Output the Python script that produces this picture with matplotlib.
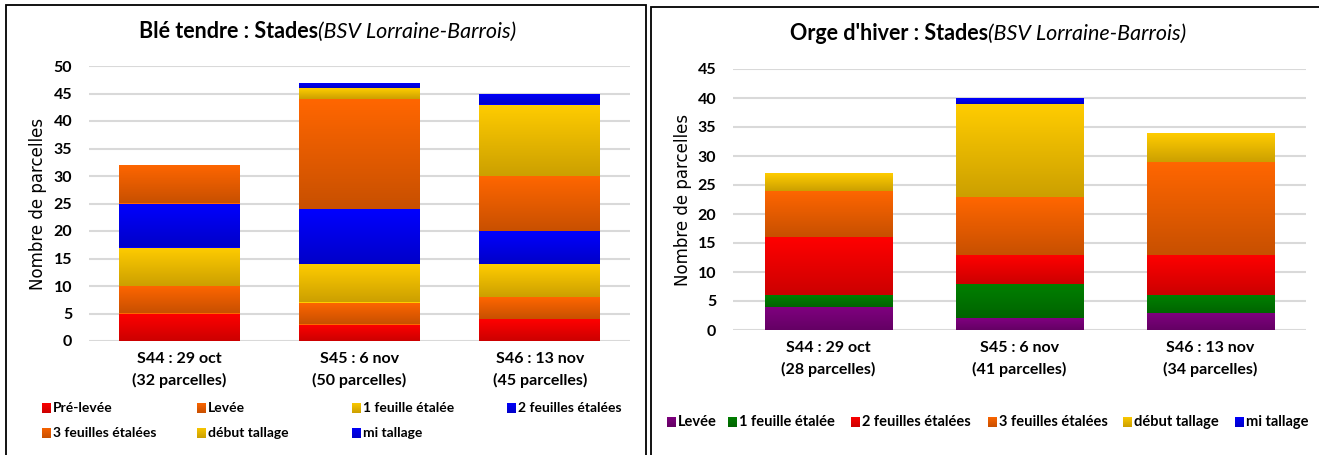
import numpy as np
import matplotlib.pyplot as plt
from matplotlib.colors import LinearSegmentedColormap
from matplotlib.patches import Rectangle

W, H = 1319, 455
plt.rcParams['font.family'] = ['Lato', 'DejaVu Sans']

# ---------------- data : Blé tendre ----------------
ble_semaines = ["S44 : 29 oct\n(32 parcelles)", "S45 : 6 nov\n(50 parcelles)", "S46 : 13 nov\n(45 parcelles)"]
ble_stades = ["Pré-levée", "Levée", "1 feuille étalée", "2 feuilles étalées",
              "3 feuilles étalées", "début tallage", "mi tallage"]
ble_pre_levee = [5, 3, 4]
ble_levee = [5, 4, 4]
ble_1_feuille = [7, 7, 6]
ble_2_feuilles = [8, 10, 6]
ble_3_feuilles = [7, 20, 10]
ble_debut_tallage = [0, 2, 13]
ble_mi_tallage = [0, 1, 2]

# ---------------- data : Orge d'hiver ----------------
orge_semaines = ["S44 : 29 oct\n(28 parcelles)", "S45 : 6 nov\n(41 parcelles)", "S46 : 13 nov\n(34 parcelles)"]
orge_stades = ["Levée", "1 feuille étalée", "2 feuilles étalées",
               "3 feuilles étalées", "début tallage", "mi tallage"]
orge_levee = [4, 2, 3]
orge_1_feuille = [2, 6, 3]
orge_2_feuilles = [10, 5, 7]
orge_3_feuilles = [8, 10, 16]
orge_debut_tallage = [3, 16, 5]
orge_mi_tallage = [0, 1, 0]

# gradient colours (top, bottom)
RED = ("#ff0000", "#cc0000")
ORANGE = ("#ff6600", "#c85000")
YELLOW = ("#ffcc00", "#cca000")
BLUE = ("#0000ff", "#0000c8")
GREEN = ("#008000", "#006400")
PURPLE = ("#800080", "#640064")

ble_couleurs = [RED, ORANGE, YELLOW, BLUE, ORANGE, YELLOW, BLUE]
orge_couleurs = [PURPLE, GREEN, RED, ORANGE, YELLOW, BLUE]

grad = np.linspace(0, 1, 64).reshape(-1, 1)


def cmap_of(c):
    return LinearSegmentedColormap.from_list("g", [c[1], c[0]])


def stacked(ax, cats, series, couleurs, ymax):
    x = np.arange(len(cats))
    bottom = np.zeros(len(cats))
    for vals, c in zip(series, couleurs):
        vals = np.array(vals, dtype=float)
        bars = ax.bar(x, vals, 0.67, bottom=bottom, color=c[0], linewidth=0, zorder=3)
        for p in bars:
            if p.get_height() <= 0:
                continue
            x0, y0 = p.get_xy()
            im = ax.imshow(grad, cmap=cmap_of(c), aspect='auto', origin='lower',
                           extent=[x0, x0 + p.get_width(), y0, y0 + p.get_height()], zorder=4)
            im.set_clip_path(p)
        bottom += vals
    ax.set_xlim(-0.5, len(cats) - 0.5)
    ax.set_ylim(0, ymax)
    ax.set_yticks(range(0, ymax + 1, 5))
    ax.set_xticks(x)
    ax.set_xticklabels(cats, fontsize=11.5, fontweight='bold', linespacing=1.6)
    ax.grid(axis='y', color='#d9d9d9', linewidth=1.5, zorder=0)
    ax.set_axisbelow(True)
    for s in ax.spines.values():
        s.set_visible(False)
    ax.tick_params(axis='both', length=0)
    ax.tick_params(axis='y', pad=12, labelsize=11.5)
    ax.tick_params(axis='x', pad=8)
    for t in ax.get_yticklabels():
        t.set_fontweight('bold')
    ax.set_ylabel("Nombre de parcelles", family='DejaVu Sans', fontsize=12)


fig = plt.figure(figsize=(W / 100, H / 100), dpi=100)

ax1 = fig.add_axes([89 / W, (H - 341) / H, (630 - 89) / W, (341 - 66) / H])
stacked(ax1, ble_semaines,
        [ble_pre_levee, ble_levee, ble_1_feuille, ble_2_feuilles, ble_3_feuilles, ble_debut_tallage, ble_mi_tallage],
        ble_couleurs, 50)
ax1.yaxis.set_label_coords(-0.077, 0.5)

ax2 = fig.add_axes([733 / W, (H - 330) / H, (1306 - 733) / W, (330 - 69) / H])
stacked(ax2, orge_semaines,
        [orge_levee, orge_1_feuille, orge_2_feuilles, orge_3_feuilles, orge_debut_tallage, orge_mi_tallage],
        orge_couleurs, 45)
ax2.yaxis.set_label_coords(-0.072, 0.5)

# panel frames
fig.add_artist(Rectangle((6 / W, -0.05), (646 - 6) / W, (H - 5) / H + 0.05, transform=fig.transFigure,
                         fill=False, ec='black', lw=1.3))
fig.add_artist(Rectangle((651 / W, -0.05), 0.6, (H - 7) / H + 0.05, transform=fig.transFigure,
                         fill=False, ec='black', lw=1.3))

# titles (bold part + italic part)
fig.canvas.draw()
r = fig.canvas.get_renderer()


def titre(cx, cy, gras, ital):
    t1 = fig.text(0, cy / H, gras, fontsize=15.5, fontweight='bold', va='center')
    t2 = fig.text(0, cy / H, ital, fontsize=15.5, style='italic', va='center')
    w1 = t1.get_window_extent(r).width
    w2 = t2.get_window_extent(r).width
    x0 = cx - (w1 + w2) / 2
    t1.set_x(x0 / W)
    t2.set_x((x0 + w1) / W)


titre(328, H - 32, "Blé tendre : Stades", "(BSV Lorraine-Barrois)")
titre(988, H - 34, "Orge d'hiver : Stades", "(BSV Lorraine-Barrois)")


# legends drawn as small gradient squares + labels
def legende(px, py, label, c, fs):
    lax = fig.add_axes([px / W, (H - py - 5.5) / H, 9 / W, 11 / H])
    lax.imshow(grad, cmap=cmap_of(c), aspect='auto', origin='lower')
    lax.axis('off')
    fig.text((px + 11) / W, (H - py) / H, label, fontsize=fs, fontweight='bold', va='center')


ble_leg_x = [42, 197, 352, 507, 42, 197, 352]
ble_leg_y = [408, 408, 408, 408, 433, 433, 433]
for lab, c, lx, ly in zip(ble_stades, ble_couleurs, ble_leg_x, ble_leg_y):
    legende(lx, ly, lab, c, 10)

orge_leg_x = [667, 728, 851, 988, 1123, 1235]
for lab, c, lx in zip(orge_stades, orge_couleurs, orge_leg_x):
    legende(lx, 422, lab, c, 10.5)

fig.savefig("out.png", dpi=100)
